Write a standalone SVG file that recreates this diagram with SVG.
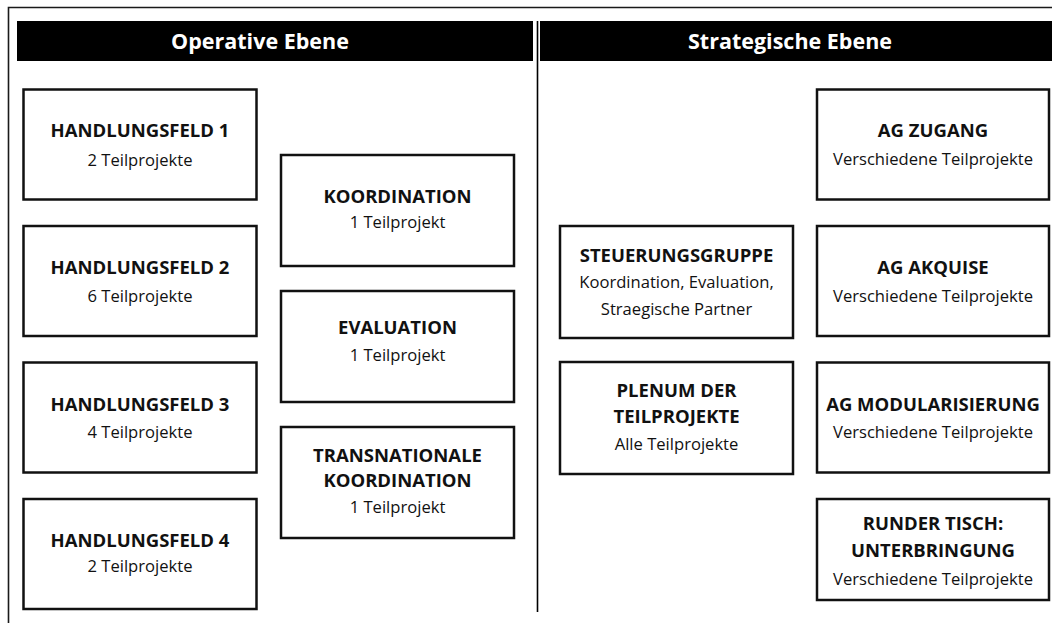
<svg xmlns="http://www.w3.org/2000/svg" width="1052" height="623" viewBox="0 0 1052 623">
<style>
.frame{fill:none;stroke:#1a1a1a;stroke-width:1.6}
.box{fill:#fff;stroke:#111;stroke-width:2.5}
.hdr{fill:#000}
.ht{font-family:"Open Sans",Lato,sans-serif;font-weight:700;font-size:21.5px;fill:#fff;text-anchor:middle}
.t{font-family:"Open Sans",Lato,sans-serif;font-weight:700;font-size:18.5px;fill:#111;text-anchor:middle}
.s{font-family:"Open Sans",Lato,sans-serif;font-weight:400;font-size:16.6px;fill:#111;text-anchor:middle}
</style>
<rect width="1052" height="623" fill="#fff"/>
<g id="frame">
<path class="frame" d="M8.5,623 V7.5 H1052"/>
<line x1="537.5" y1="21" x2="537.5" y2="612" stroke="#000" stroke-width="1.6"/>
</g>
<g id="header-operative">
<rect class="hdr" x="17" y="21" width="516" height="40"/>
<text class="ht" x="260" y="49">Operative Ebene</text>
</g>
<g id="header-strategische">
<rect class="hdr" x="540" y="21" width="512" height="40"/>
<text class="ht" x="790" y="49">Strategische Ebene</text>
</g>
<g id="handlungsfeld1">
<rect class="box" x="23.5" y="89.5" width="233" height="110"/>
<text class="t" x="140" y="137">HANDLUNGSFELD 1</text>
<text class="s" x="140" y="166">2 Teilprojekte</text>
</g>
<g id="handlungsfeld2">
<rect class="box" x="23.5" y="226" width="233" height="110"/>
<text class="t" x="140" y="274">HANDLUNGSFELD 2</text>
<text class="s" x="140" y="302">6 Teilprojekte</text>
</g>
<g id="handlungsfeld3">
<rect class="box" x="23.5" y="362.5" width="233" height="110"/>
<text class="t" x="140" y="411">HANDLUNGSFELD 3</text>
<text class="s" x="140" y="438">4 Teilprojekte</text>
</g>
<g id="handlungsfeld4">
<rect class="box" x="23.5" y="499" width="233" height="110"/>
<text class="t" x="140" y="547">HANDLUNGSFELD 4</text>
<text class="s" x="140" y="572">2 Teilprojekte</text>
</g>
<g id="koordination">
<rect class="box" x="281" y="155" width="233" height="111"/>
<text class="t" x="397.5" y="203">KOORDINATION</text>
<text class="s" x="397.5" y="228">1 Teilprojekt</text>
</g>
<g id="evaluation">
<rect class="box" x="281" y="291" width="233" height="111"/>
<text class="t" x="397.5" y="334">EVALUATION</text>
<text class="s" x="397.5" y="361">1 Teilprojekt</text>
</g>
<g id="transnationale-koordination">
<rect class="box" x="281" y="427" width="233" height="111"/>
<text class="t" x="397.5" y="462">TRANSNATIONALE</text>
<text class="t" x="397.5" y="487">KOORDINATION</text>
<text class="s" x="397.5" y="513">1 Teilprojekt</text>
</g>
<g id="steuerungsgruppe">
<rect class="box" x="560" y="226" width="233" height="112"/>
<text class="t" x="676.5" y="262">STEUERUNGSGRUPPE</text>
<text class="s" x="676.5" y="288">Koordination, Evaluation,</text>
<text class="s" x="676.5" y="315">Straegische Partner</text>
</g>
<g id="plenum">
<rect class="box" x="560" y="362" width="233" height="112"/>
<text class="t" x="676.5" y="397">PLENUM DER</text>
<text class="t" x="676.5" y="423">TEILPROJEKTE</text>
<text class="s" x="676.5" y="450">Alle Teilprojekte</text>
</g>
<g id="ag-zugang">
<rect class="box" x="817" y="89.5" width="232" height="110"/>
<text class="t" x="933" y="137">AG ZUGANG</text>
<text class="s" x="933" y="165">Verschiedene Teilprojekte</text>
</g>
<g id="ag-akquise">
<rect class="box" x="817" y="226" width="232" height="110"/>
<text class="t" x="933" y="274">AG AKQUISE</text>
<text class="s" x="933" y="302">Verschiedene Teilprojekte</text>
</g>
<g id="ag-modularisierung">
<rect class="box" x="817" y="362.5" width="232" height="110"/>
<text class="t" x="933" y="411">AG MODULARISIERUNG</text>
<text class="s" x="933" y="438">Verschiedene Teilprojekte</text>
</g>
<g id="runder-tisch">
<rect class="box" x="817" y="499" width="232" height="101"/>
<text class="t" x="933" y="530">RUNDER TISCH:</text>
<text class="t" x="933" y="557">UNTERBRINGUNG</text>
<text class="s" x="933" y="585">Verschiedene Teilprojekte</text>
</g>
<g id="connectors"></g>
</svg>
